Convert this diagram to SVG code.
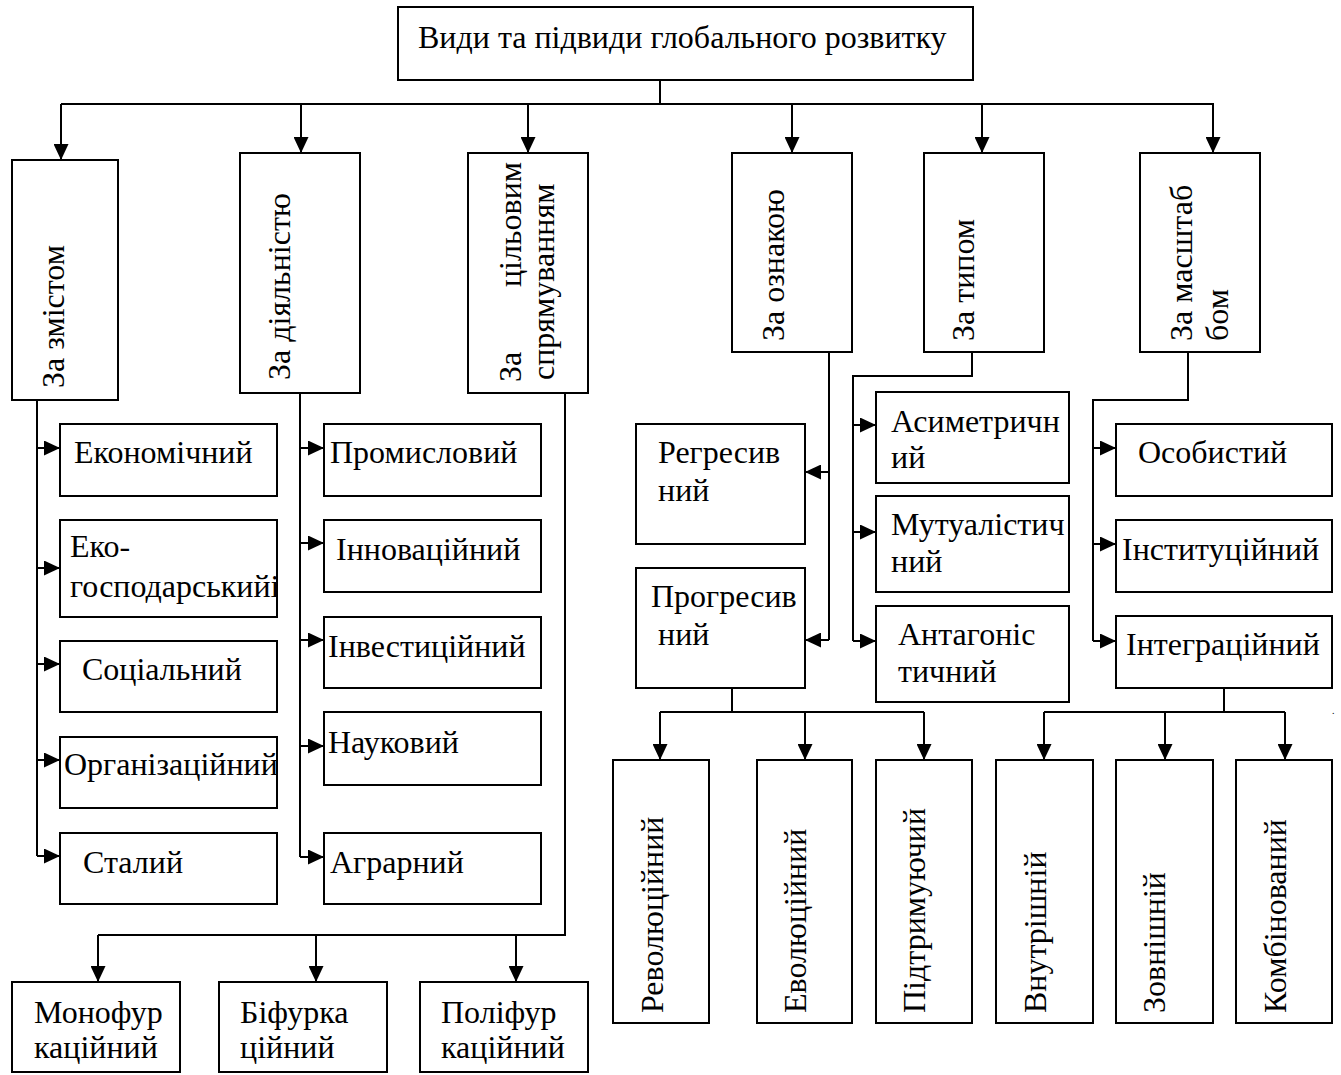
<svg xmlns="http://www.w3.org/2000/svg" width="1341" height="1075" viewBox="0 0 1341 1075">
<style>
.box{fill:#fff;stroke:#000;stroke-width:2}
.t{font-family:"Liberation Serif","Times New Roman",serif;font-size:32px;fill:#000}
.c{fill:none;stroke:#000;stroke-width:2}
.a{fill:none;stroke:#000;stroke-width:2;marker-end:url(#ar)}
</style>
<defs>
<marker id="ar" markerUnits="userSpaceOnUse" markerWidth="16" markerHeight="15" refX="16" refY="7.5" orient="auto">
<path d="M0,0 L16,7.5 L0,15 z" fill="#000"/>
</marker>
<clipPath id="ekoclip"><rect x="60" y="520" width="217" height="97"/></clipPath>
</defs>
<rect width="1341" height="1075" fill="#fff"/>

<g id="connectors">
<path class="c" d="M660,80 V104 M61,104 H1214"/>
<path class="a" d="M61,104 V160"/>
<path class="a" d="M301,104 V153"/>
<path class="a" d="M528,104 V153"/>
<path class="a" d="M792,104 V153"/>
<path class="a" d="M982,104 V153"/>
<path class="a" d="M1213,104 V153"/>

<path class="c" d="M37,400 V856"/>
<path class="a" d="M37,448 H60"/>
<path class="a" d="M37,568 H60"/>
<path class="a" d="M37,664 H60"/>
<path class="a" d="M37,760 H60"/>
<path class="a" d="M37,856 H60"/>

<path class="c" d="M300,393 V857"/>
<path class="a" d="M300,448 H324"/>
<path class="a" d="M300,543 H324"/>
<path class="a" d="M300,640 H324"/>
<path class="a" d="M300,746 H324"/>
<path class="a" d="M300,857 H324"/>

<path class="c" d="M565,393 V935 H98"/>
<path class="a" d="M98,935 V982"/>
<path class="a" d="M316,935 V982"/>
<path class="a" d="M516,935 V982"/>

<path class="c" d="M829,352 V640"/>
<path class="a" d="M829,472 H805"/>
<path class="a" d="M829,640 H805"/>

<path class="c" d="M972,352 V376 H853 V641"/>
<path class="a" d="M853,425 H876"/>
<path class="a" d="M853,532 H876"/>
<path class="a" d="M853,641 H876"/>

<path class="c" d="M1188,352 V400 H1093 V641"/>
<path class="a" d="M1093,448 H1116"/>
<path class="a" d="M1093,544 H1116"/>
<path class="a" d="M1093,641 H1116"/>

<path class="c" d="M732,688 V712 M660,712 H924"/>
<path class="a" d="M660,712 V760"/>
<path class="a" d="M805,712 V760"/>
<path class="a" d="M924,712 V760"/>

<path class="c" d="M1224,688 V712 M1044,712 H1285"/>
<path class="a" d="M1044,712 V760"/>
<path class="a" d="M1165,712 V760"/>
<path class="a" d="M1285,712 V760"/>
</g>

<g id="root"><rect class="box" x="398" y="7" width="575" height="73"/><text class="t" x="418" y="48">Види та підвиди глобального розвитку</text></g>

<g id="za-zmistom"><rect class="box" x="12" y="160" width="106" height="240"/><text class="t" transform="translate(64,388) rotate(-90)">За змістом</text></g>
<g id="za-diialnistiu"><rect class="box" x="240" y="153" width="120" height="240"/><text class="t" transform="translate(290,380) rotate(-90)">За діяльністю</text></g>
<g id="za-tsilovym"><rect class="box" x="468" y="153" width="120" height="240"/><text class="t" transform="translate(521,382) rotate(-90)"><tspan x="0">За</tspan><tspan x="95">цільовим</tspan></text><text class="t" transform="translate(554,380) rotate(-90)">спрямуванням</text></g>
<g id="za-oznakoiu"><rect class="box" x="732" y="153" width="120" height="199"/><text class="t" transform="translate(784,341) rotate(-90)">За ознакою</text></g>
<g id="za-typom"><rect class="box" x="924" y="153" width="120" height="199"/><text class="t" transform="translate(974,341) rotate(-90)">За типом</text></g>
<g id="za-masshtabom"><rect class="box" x="1140" y="153" width="120" height="199"/><text class="t" transform="translate(1192,341) rotate(-90)">За масштаб</text><text class="t" transform="translate(1228,341) rotate(-90)">бом</text></g>

<g id="ekonomichnyi"><rect class="box" x="60" y="424" width="217" height="72"/><text class="t" x="74" y="463">Економічний</text></g>
<g id="eko"><rect class="box" x="60" y="520" width="217" height="97"/><text class="t" x="70" y="557">Еко-</text><text class="t" x="70" y="597" clip-path="url(#ekoclip)">господарськийі</text></g>
<g id="sotsialnyi"><rect class="box" x="60" y="641" width="217" height="71"/><text class="t" x="82" y="680">Соціальний</text></g>
<g id="orhanizatsiinyi"><rect class="box" x="60" y="737" width="217" height="71"/><text class="t" x="64" y="775">Організаційний</text></g>
<g id="stalyi"><rect class="box" x="60" y="833" width="217" height="71"/><text class="t" x="83" y="873">Сталий</text></g>

<g id="promyslovyi"><rect class="box" x="324" y="424" width="217" height="72"/><text class="t" x="330" y="463">Промисловий</text></g>
<g id="innovatsiinyi"><rect class="box" x="324" y="520" width="217" height="72"/><text class="t" x="336" y="560">Інноваційний</text></g>
<g id="investytsiinyi"><rect class="box" x="324" y="617" width="217" height="71"/><text class="t" x="328" y="657">Інвестиційний</text></g>
<g id="naukovyi"><rect class="box" x="324" y="712" width="217" height="73"/><text class="t" x="328" y="753">Науковий</text></g>
<g id="ahrarnyi"><rect class="box" x="324" y="833" width="217" height="71"/><text class="t" x="330" y="873">Аграрний</text></g>

<g id="monofurkatsiinyi"><rect class="box" x="12" y="982" width="168" height="90"/><text class="t" x="34" y="1023">Монофур</text><text class="t" x="34" y="1058">каційний</text></g>
<g id="bifurkatsiinyi"><rect class="box" x="219" y="982" width="168" height="90"/><text class="t" x="240" y="1023">Біфурка</text><text class="t" x="240" y="1058">ційний</text></g>
<g id="polifurkatsiinyi"><rect class="box" x="420" y="982" width="168" height="90"/><text class="t" x="441" y="1023">Поліфур</text><text class="t" x="441" y="1058">каційний</text></g>

<g id="rehresyvnyi"><rect class="box" x="636" y="424" width="169" height="120"/><text class="t" x="658" y="463">Регресив</text><text class="t" x="658" y="501">ний</text></g>
<g id="prohresyvnyi"><rect class="box" x="636" y="568" width="169" height="120"/><text class="t" x="651" y="607">Прогресив</text><text class="t" x="658" y="645">ний</text></g>

<g id="asymetrychnyi"><rect class="box" x="876" y="392" width="193" height="91"/><text class="t" x="891" y="432">Асиметричн</text><text class="t" x="891" y="468">ий</text></g>
<g id="mutualistychnyi"><rect class="box" x="876" y="496" width="193" height="96"/><text class="t" x="891" y="535">Мутуалістич</text><text class="t" x="891" y="572">ний</text></g>
<g id="antahonistychnyi"><rect class="box" x="876" y="606" width="193" height="96"/><text class="t" x="898" y="645">Антагоніс</text><text class="t" x="898" y="682">тичний</text></g>

<g id="osobystyi"><rect class="box" x="1116" y="424" width="216" height="72"/><text class="t" x="1138" y="463">Особистий</text></g>
<g id="instytutsiinyi"><rect class="box" x="1116" y="520" width="216" height="72"/><text class="t" x="1122" y="560">Інституційний</text></g>
<g id="intehratsiinyi"><rect class="box" x="1116" y="616" width="216" height="72"/><text class="t" x="1126" y="655">Інтеграційний</text></g>

<g id="revoliutsiinyi"><rect class="box" x="613" y="760" width="96" height="263"/><text class="t" transform="translate(663,1013) rotate(-90)">Революційний</text></g>
<g id="evoliutsiinyi"><rect class="box" x="757" y="760" width="95" height="263"/><text class="t" transform="translate(806,1013) rotate(-90)">Еволюційний</text></g>
<g id="pidtrymuiuchyi"><rect class="box" x="876" y="760" width="96" height="263"/><text class="t" transform="translate(925,1013) rotate(-90)">Підтримуючий</text></g>
<g id="vnutrishnii"><rect class="box" x="996" y="760" width="97" height="263"/><text class="t" transform="translate(1046,1013) rotate(-90)">Внутрішній</text></g>
<g id="zovnishnii"><rect class="box" x="1116" y="760" width="97" height="263"/><text class="t" transform="translate(1165,1013) rotate(-90)">Зовнішній</text></g>
<g id="kombinovanyi"><rect class="box" x="1236" y="760" width="96" height="263"/><text class="t" transform="translate(1286,1013) rotate(-90)">Комбінований</text></g>

<text class="t" x="1332" y="714" style="font-size:10px">.</text>
</svg>
